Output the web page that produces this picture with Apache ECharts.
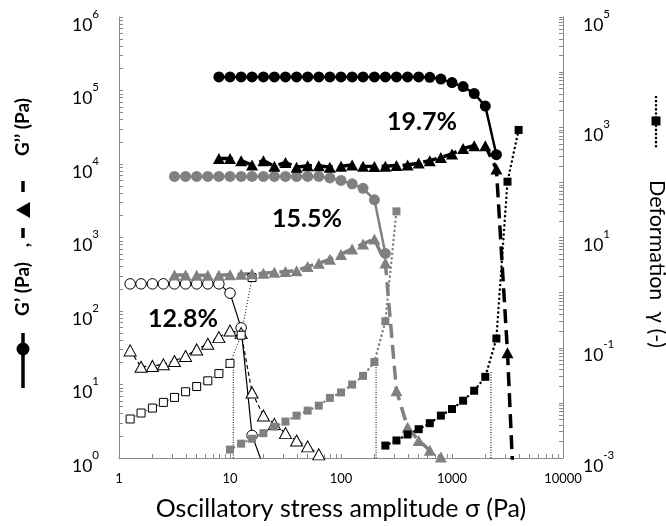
<!DOCTYPE html>
<html><head><meta charset="utf-8">
<script src="https://cdn.jsdelivr.net/npm/echarts@6/dist/echarts.min.js"></script>
<style>html,body{margin:0;padding:0;background:#fff}#c{width:666px;height:526px}</style>
</head><body><div id="c"></div>
<script>
// ---------------- data ----------------
// 12.8 % sample (open markers)
const x128 = [1.26, 1.58, 2.0, 2.51, 3.16, 3.98, 5.01, 6.31, 7.94, 10.0, 12.6, 15.8, 20.0];
const gp128 = [234, 234, 234, 234, 234, 234, 234, 234, 234, 175, 59, 2.03, 0.77];
const xgpp128 = [1.26, 1.58, 2.0, 2.51, 3.16, 3.98, 5.01, 6.31, 7.94, 10.0, 12.6, 15.8, 20.0, 25.1, 31.6, 39.8, 50.1, 63.1];
const gpp128 = [29.1, 17.4, 17.9, 18.8, 20.9, 24.4, 30.0, 35.8, 44.1, 54.2, 50, 7.8, 3.78, 2.91, 2.18, 1.73, 1.44, 1.12];
const xdef128 = [1.26, 1.58, 2.0, 2.51, 3.16, 3.98, 5.01, 6.31, 7.94, 10.0, 12.6, 15.8];
const def128 = [0.0051, 0.00655, 0.00805, 0.0102, 0.01256, 0.0159, 0.0198, 0.0251, 0.034, 0.0521, 0.169, 1.88];

// 15.5 % sample (grey markers)
const x155 = [3.16, 3.98, 5.01, 6.31, 7.94, 10.0, 12.6, 15.8, 20.0, 25.1, 31.6, 39.8, 50.1, 63.1, 79.4, 100, 126, 158, 200, 251];
const gp155 = [6780, 6780, 6780, 6780, 6780, 6780, 6780, 6780, 6780, 6780, 6780, 6780, 6780, 6780, 6470, 5980, 5370, 4670, 3260, 608];
const xgpp155 = [3.16, 3.98, 5.01, 6.31, 7.94, 10.0, 12.6, 15.8, 20.0, 25.1, 31.6, 39.8, 50.1, 63.1, 79.4, 100, 126, 158, 200, 251, 316, 398, 501, 631, 794];
const gpp155 = [310, 310, 306, 306, 306, 311, 316, 321, 326, 337, 344, 353, 402, 445, 504, 589, 700, 817, 955, 450, 8.2, 2.62, 1.73, 1.27, 1.03];
const xdef155 = [10.0, 12.6, 15.8, 20.0, 25.1, 31.6, 39.8, 50.1, 63.1, 79.4, 100, 126, 158, 200, 251, 316];
const def155 = [0.00142, 0.00182, 0.00223, 0.00282, 0.0037, 0.00458, 0.00587, 0.00723, 0.00891, 0.0123, 0.01545, 0.0215, 0.0309, 0.0552, 0.303, 29.8];

// 19.7 % sample (black markers)
const x197 = [7.94, 10.0, 12.6, 15.8, 20.0, 25.1, 31.6, 39.8, 50.1, 63.1, 79.4, 100, 126, 158, 200, 251, 316, 398, 501, 631, 794, 1000, 1259, 1585, 1995, 2512];
const gp197 = [153000, 153000, 153000, 153000, 153000, 153000, 153000, 153000, 153000, 153000, 153000, 153000, 153000, 153000, 153000, 153000, 153000, 153000, 153000, 151000, 143000, 128000, 113000, 91000, 61400, 13400];
const xgpp197 = [7.94, 10.0, 12.6, 15.8, 20.0, 25.1, 31.6, 39.8, 50.1, 63.1, 79.4, 100, 126, 158, 200, 251, 316, 398, 501, 631, 794, 1000, 1259, 1585, 1995, 2512, 3162, 3981];
const gpp197 = [11900, 11900, 11100, 9690, 11100, 9310, 10500, 9020, 9480, 9480, 9020, 9310, 9690, 9310, 9240, 9310, 9540, 9690, 10300, 11100, 12300, 13700, 16300, 17700, 17700, 8550, 27.1, 0.012];
const xdef197 = [251, 316, 398, 501, 631, 794, 1000, 1259, 1585, 1995, 2512, 3162, 3981];
const def197 = [0.00168, 0.00208, 0.00267, 0.00333, 0.00428, 0.00587, 0.00773, 0.01096, 0.0166, 0.0297, 0.147, 103, 894];

// yield-point drop lines (stress, deformation at top)
const dropStress = [10.7, 207, 2245];
const dropTop = [0.0515, 0.0583, 0.0386];

// labels
const sampleLabels = ['12.8%', '15.5%', '19.7%'];
const xTicks = [1, 10, 100, 1000, 10000];
const xTickLabels = ['1', '10', '100', '1000', '10000'];
const yLeftTicks = [1, 10, 100, 1000, 10000, 100000, 1000000];
const yLeftExp = ['0', '1', '2', '3', '4', '5', '6'];
const yRightTicks = [0.001, 0.1, 10, 1000, 100000];
const yRightExp = ['-3', '-1', '1', '3', '5'];
const xTitle = 'Oscillatory stress amplitude σ (Pa)';
const yRightTitle = 'Deformation  γ (-)';

// ---------------- helpers ----------------
const zip = (xs, ys) => xs.map((x, i) => [x, ys[i]]);
function logTicks(e0, e1) {
  const t = [];
  for (let e = e0; e < e1; e++) for (let k = 1; k <= 9; k++) t.push(k * Math.pow(10, e));
  t.push(Math.pow(10, e1));
  return t;
}
function nearestIdx(arr, v) {
  let b = 0, d = Infinity;
  arr.forEach((a, i) => { const dd = Math.abs(Math.log10(a) - Math.log10(v)); if (dd < d) { d = dd; b = i; } });
  return b;
}
const FF = 'Lato, "Liberation Sans", sans-serif';
const AX = '#8a8a8a';
const supRich = {
  b: { fontSize: 17.5, fontFamily: FF, color: '#000', verticalAlign: 'bottom', lineHeight: 26 },
  s: { fontSize: 11.5, fontFamily: FF, color: '#000', verticalAlign: 'top', lineHeight: 26 }
};

const chart = echarts.init(document.getElementById('c'), null, { renderer: 'canvas' });

const series = [];
function add(o) { series.push(Object.assign({ type: 'line', animation: false, z: 3 }, o)); }

// drop lines
dropStress.forEach((s, i) => add({
  yAxisIndex: 1, data: [[s, 0.001], [s, dropTop[i]]], symbol: 'none',
  lineStyle: { color: '#000', width: 1, type: [1, 1.5] }, z: 2
}));

// 12.8 %
add({ yAxisIndex: 0, data: zip(x128, gp128), symbol: 'circle', symbolSize: 10.5,
  itemStyle: { color: '#fff', borderColor: '#000', borderWidth: 1 }, lineStyle: { color: '#000', width: 1.2 } });
add({ yAxisIndex: 0, data: zip(xgpp128, gpp128), symbol: 'triangle', symbolSize: [12, 11],
  itemStyle: { color: '#fff', borderColor: '#000', borderWidth: 1 }, lineStyle: { color: '#000', width: 1.2, type: [4, 3] } });
add({ yAxisIndex: 1, data: zip(xdef128, def128), symbol: 'rect', symbolSize: 8,
  itemStyle: { color: '#fff', borderColor: '#000', borderWidth: 1 }, lineStyle: { color: '#000', width: 1, type: [1, 2] } });

// 15.5 %
const G = '#808080';
add({ yAxisIndex: 0, data: zip(x155, gp155), symbol: 'circle', symbolSize: 11,
  itemStyle: { color: G }, lineStyle: { color: G, width: 2.5 } });
add({ yAxisIndex: 0, data: zip(xgpp155, gpp155), symbol: 'triangle', symbolSize: [12, 11],
  itemStyle: { color: G }, lineStyle: { color: G, width: 3.5, type: [14, 7] } });
add({ yAxisIndex: 1, data: zip(xdef155, def155), symbol: 'rect', symbolSize: 8,
  itemStyle: { color: G }, lineStyle: { color: G, width: 2.5, type: [0.1, 4.5], cap: 'round' } });

// 19.7 %
add({ yAxisIndex: 0, data: zip(x197, gp197), symbol: 'circle', symbolSize: 11,
  itemStyle: { color: '#000' }, lineStyle: { color: '#000', width: 2.5 } });
add({ yAxisIndex: 0, data: zip(xgpp197, gpp197), symbol: 'triangle', symbolSize: [12, 11],
  itemStyle: { color: '#000' }, lineStyle: { color: '#000', width: 3.5, type: [14, 7] } });
add({ yAxisIndex: 1, data: zip(xdef197, def197), symbol: 'rect', symbolSize: 8,
  itemStyle: { color: '#000' }, lineStyle: { color: '#000', width: 2.5, type: [0.1, 4.5], cap: 'round' } });

const boldFont = 'bold 25px ' + FF;
const titleBold = 'bold 19px ' + FF;
chart.setOption({
  animation: false,
  backgroundColor: '#fff',
  grid: { left: 119, right: 103, top: 17, bottom: 65, containLabel: false },
  xAxis: {
    type: 'log', logBase: 10, min: 1, max: 10000,
    axisLine: { lineStyle: { color: AX, width: 1 } },
    axisTick: { inside: true, length: 4, lineStyle: { color: AX }, customValues: logTicks(0, 4) },
    axisLabel: { customValues: xTicks, margin: 14, fontSize: 13, fontFamily: FF, color: '#000',
      formatter: v => xTickLabels[nearestIdx(xTicks, v)] },
    splitLine: { show: false },
    name: xTitle, nameLocation: 'middle', nameGap: 38,
    nameTextStyle: { fontSize: 25, fontFamily: FF, color: '#000' }
  },
  yAxis: [{
    type: 'log', logBase: 10, min: 1, max: 1e6, position: 'left',
    axisLine: { show: true, lineStyle: { color: AX, width: 1 } },
    axisTick: { show: true, inside: true, length: 4, lineStyle: { color: AX }, customValues: logTicks(0, 6) },
    axisLabel: { customValues: yLeftTicks, margin: 20, rich: supRich, padding: [8, 0, 0, 0],
      formatter: v => '{b|10}{s|' + yLeftExp[nearestIdx(yLeftTicks, v)] + '}' },
    splitLine: { show: false }
  }, {
    type: 'log', logBase: 10, min: 0.001, max: 1e5, position: 'right',
    axisLine: { show: true, lineStyle: { color: AX, width: 1 } },
    axisTick: { show: true, inside: true, length: 4, lineStyle: { color: AX }, customValues: logTicks(-3, 5) },
    axisLabel: { customValues: yRightTicks, margin: 20, rich: supRich, padding: [8, 0, 0, 0],
      formatter: v => '{b|10}{s|' + yRightExp[nearestIdx(yRightTicks, v)] + '}' },
    splitLine: { show: false }
  }],
  series: series,
  graphic: [
    { type: 'text', x: 183, y: 319, style: { text: sampleLabels[0], font: boldFont, fill: '#000', align: 'center', verticalAlign: 'middle' }, z: 10 },
    { type: 'text', x: 307, y: 219, style: { text: sampleLabels[1], font: boldFont, fill: '#000', align: 'center', verticalAlign: 'middle' }, z: 10 },
    { type: 'text', x: 422, y: 122, style: { text: sampleLabels[2], font: boldFont, fill: '#000', align: 'center', verticalAlign: 'middle' }, z: 10 },
    // left axis title with legend glyphs
    { type: 'line', shape: { x1: 23, y1: 333, x2: 23, y2: 388 }, style: { stroke: '#000', lineWidth: 3.5 } },
    { type: 'circle', shape: { cx: 23, cy: 349, r: 6.5 }, style: { fill: '#000' } },
    { type: 'text', x: 23, y: 289, rotation: Math.PI / 2, style: { text: 'G’ (Pa)', font: titleBold, fill: '#000', align: 'center', verticalAlign: 'middle' } },
    { type: 'text', x: 23, y: 245, rotation: Math.PI / 2, style: { text: ',', font: titleBold, fill: '#000', align: 'center', verticalAlign: 'middle' } },
    { type: 'line', shape: { x1: 23, y1: 228, x2: 23, y2: 238 }, style: { stroke: '#000', lineWidth: 3.5 } },
    { type: 'polygon', shape: { points: [[16, 210], [30, 202], [30, 218]] }, style: { fill: '#000' } },
    { type: 'line', shape: { x1: 23, y1: 181, x2: 23, y2: 192 }, style: { stroke: '#000', lineWidth: 3.5 } },
    { type: 'text', x: 23, y: 127, rotation: Math.PI / 2, style: { text: 'G’’ (Pa)', font: titleBold, fill: '#000', align: 'center', verticalAlign: 'middle' } },
    // right axis title with legend glyph
    { type: 'line', shape: { x1: 656, y1: 97, x2: 656, y2: 150 }, style: { stroke: '#000', lineWidth: 2.5, lineDash: [0.1, 4], lineCap: 'round' } },
    { type: 'rect', shape: { x: 651.5, y: 116.5, width: 9, height: 9 }, style: { fill: '#000' } },
    { type: 'text', x: 657, y: 264, rotation: -Math.PI / 2, style: { text: yRightTitle, font: '21.5px ' + FF, fill: '#000', align: 'center', verticalAlign: 'middle' } }
  ]
});
</script>
</body></html>
